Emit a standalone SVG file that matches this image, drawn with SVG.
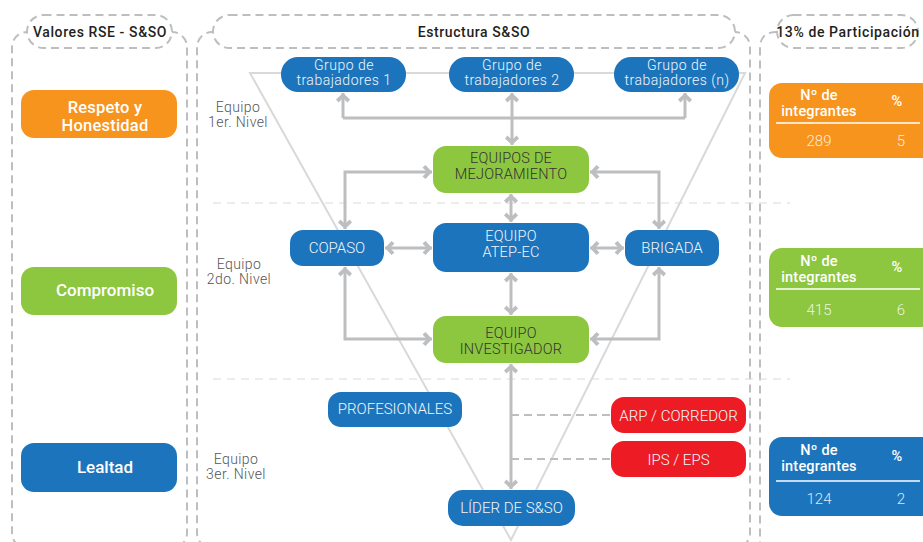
<svg xmlns="http://www.w3.org/2000/svg" width="923" height="542" viewBox="0 0 923 542">
<style>
  text { font-family: Roboto, "Liberation Sans", "DejaVu Sans", sans-serif; }
  .panel { fill: none; stroke: #BCBEC0; stroke-width: 2; stroke-dasharray: 8 5; }
  .pill { fill: #fff; stroke: #BCBEC0; stroke-width: 2; stroke-dasharray: 8 5; }
  .hdr { font-size: 14px; font-weight: 500; fill: #231F20; text-anchor: middle; letter-spacing: 0.6px; }
  .sep { stroke: #DADADA; stroke-width: 1; stroke-dasharray: 8 6; fill: none; }
  .tri { fill: none; stroke: #D9D9D9; stroke-width: 2; }
  .blue { fill: #1C75BC; }
  .green { fill: #8DC63F; }
  .orange { fill: #F7941D; }
  .red { fill: #ED1C24; }
  .wt { fill: #F2F6FB; font-size: 15px; font-weight: 300; text-anchor: middle; }
  .wt2 { fill: #F2F6FB; font-size: 14.5px; font-weight: 300; text-anchor: middle; letter-spacing: 0.2px; }
  .grp { fill: #F2F6FB; font-size: 14px; font-weight: 300; text-anchor: middle; letter-spacing: 0.5px; }
  .dk { fill: #333333; font-size: 14.5px; font-weight: 300; text-anchor: middle; letter-spacing: 0.2px; }
  .val { fill: #FFFFFF; font-size: 17px; font-weight: 500; text-anchor: middle; }
  .val2 { fill: #FFFFFF; font-size: 16.5px; font-weight: 500; text-anchor: middle; letter-spacing: 0.2px; }
  .lvl { fill: #555555; font-size: 14px; font-weight: 300; text-anchor: middle; letter-spacing: 0.4px; }
  .bh { fill: #FFFFFF; font-size: 14.5px; font-weight: 500; text-anchor: middle; letter-spacing: 0.2px; }
  .bn { fill: #FFFFFF; fill-opacity: 0.85; font-size: 15px; font-weight: 300; text-anchor: middle; }
  .conn { fill: none; stroke: #BCBEC0; stroke-width: 3; }
  .dash { fill: none; stroke: #BCBEC0; stroke-width: 2; stroke-dasharray: 8 5; }
</style>
<defs>
  <marker id="ah" viewBox="-1 -8 12 16" markerWidth="12" markerHeight="16" refX="10" refY="0" orient="auto-start-reverse" markerUnits="userSpaceOnUse">
    <path d="M10,0 L3.5,-7 L0.5,-4.5 L5,0 L0.5,4.5 L3.5,7 Z" fill="#BCBEC0"/>
  </marker>
</defs>
<rect width="923" height="542" fill="#FFFFFF"/>

<!-- panels -->
<g id="panels">
  <rect class="panel" x="12" y="32" width="175" height="516" rx="15"/>
  <rect class="panel" x="197" y="32" width="553" height="516" rx="15"/>
  <path class="panel" d="M777,32 Q760,32 760,48 L760,560"/>
  <rect class="pill" x="27" y="15" width="145" height="33" rx="16.5"/>
  <rect class="pill" x="213" y="15" width="522" height="33" rx="16.5"/>
  <rect class="pill" x="777" y="15" width="141" height="33" rx="16.5"/>
  <text class="hdr" x="100" y="37">Valores RSE - S&amp;SO</text>
  <text class="hdr" x="474" y="37">Estructura S&amp;SO</text>
  <text class="hdr" x="848" y="37">13% de Participación</text>
</g>

<!-- separators and triangle -->
<g id="background">
  <line class="sep" x1="213" y1="203" x2="790" y2="203"/>
  <line class="sep" x1="213" y1="379" x2="790" y2="379"/>
  <polygon class="tri" points="250,73 745,73 511,540"/>
</g>

<!-- level labels -->
<g id="levels">
  <text class="lvl" x="238" y="112">Equipo</text>
  <text class="lvl" x="238" y="127">1er. Nivel</text>
  <text class="lvl" x="239" y="269">Equipo</text>
  <text class="lvl" x="239" y="284">2do. Nivel</text>
  <text class="lvl" x="236" y="464">Equipo</text>
  <text class="lvl" x="236" y="479">3er. Nivel</text>
</g>

<!-- connectors -->
<g id="connectors">
  <path class="conn" d="M343,118 H685"/>
  <path class="conn" d="M343,118 V93" marker-end="url(#ah)"/>
  <path class="conn" d="M685,118 V93" marker-end="url(#ah)"/>
  <path class="conn" d="M512,93 V145" marker-start="url(#ah)" marker-end="url(#ah)"/>
  <path class="conn" d="M432,172 H345 V229" marker-start="url(#ah)" marker-end="url(#ah)"/>
  <path class="conn" d="M590,172 H659 V229" marker-start="url(#ah)" marker-end="url(#ah)"/>
  <path class="conn" d="M511,194 V222" marker-start="url(#ah)" marker-end="url(#ah)"/>
  <path class="conn" d="M385,248 H432" marker-start="url(#ah)" marker-end="url(#ah)"/>
  <path class="conn" d="M590,248 H624" marker-start="url(#ah)" marker-end="url(#ah)"/>
  <path class="conn" d="M511,273 V315" marker-start="url(#ah)" marker-end="url(#ah)"/>
  <path class="conn" d="M345,267 V339 H432" marker-start="url(#ah)" marker-end="url(#ah)"/>
  <path class="conn" d="M659,267 V339 H590" marker-start="url(#ah)" marker-end="url(#ah)"/>
  <path class="conn" d="M511,364 V489" marker-start="url(#ah)" marker-end="url(#ah)"/>
  <path class="dash" d="M511,415 H611"/>
  <path class="dash" d="M511,459 H611"/>
</g>

<!-- left values -->
<g id="val-respeto">
  <rect class="orange" x="21" y="90" width="156" height="48" rx="13"/>
  <text class="val2" x="105" y="112.5">Respeto y</text>
  <text class="val2" x="105" y="130.5">Honestidad</text>
</g>
<g id="val-compromiso">
  <rect class="green" x="21" y="267" width="156" height="48" rx="13"/>
  <text class="val" x="105" y="296">Compromiso</text>
</g>
<g id="val-lealtad">
  <rect class="blue" x="21" y="443" width="156" height="49" rx="13"/>
  <text class="val" x="105" y="473">Lealtad</text>
</g>

<!-- structure nodes -->
<g id="grupo1">
  <rect class="blue" x="281" y="57" width="125" height="35" rx="17"/>
  <text class="grp" x="344" y="70">Grupo de</text>
  <text class="grp" x="344" y="85">trabajadores 1</text>
</g>
<g id="grupo2">
  <rect class="blue" x="449" y="57" width="125" height="35" rx="17"/>
  <text class="grp" x="512" y="70">Grupo de</text>
  <text class="grp" x="512" y="85">trabajadores 2</text>
</g>
<g id="grupon">
  <rect class="blue" x="614" y="57" width="125" height="35" rx="17"/>
  <text class="grp" x="677" y="70">Grupo de</text>
  <text class="grp" x="677" y="85">trabajadores (n)</text>
</g>
<g id="mejoramiento">
  <rect class="green" x="433" y="146" width="156" height="47" rx="13"/>
  <text class="dk" x="511" y="163">EQUIPOS DE</text>
  <text class="dk" x="511" y="179">MEJORAMIENTO</text>
</g>
<g id="copaso">
  <rect class="blue" x="290" y="230" width="94" height="36" rx="13"/>
  <text class="wt" x="337" y="253">COPASO</text>
</g>
<g id="atep">
  <rect class="blue" x="433" y="223" width="156" height="49" rx="13"/>
  <text class="wt2" x="511" y="241">EQUIPO</text>
  <text class="wt2" x="511" y="257">ATEP-EC</text>
</g>
<g id="brigada">
  <rect class="blue" x="625" y="230" width="94" height="36" rx="13"/>
  <text class="wt" x="672" y="253">BRIGADA</text>
</g>
<g id="investigador">
  <rect class="green" x="433" y="316" width="156" height="47" rx="13"/>
  <text class="dk" x="511" y="338">EQUIPO</text>
  <text class="dk" x="511" y="354">INVESTIGADOR</text>
</g>
<g id="profesionales">
  <rect class="blue" x="328" y="392" width="134" height="35" rx="13"/>
  <text class="wt" x="395" y="414">PROFESIONALES</text>
</g>
<g id="arp">
  <rect class="red" x="611" y="397" width="135" height="36" rx="13"/>
  <text class="wt" x="678.5" y="420.5">ARP / CORREDOR</text>
</g>
<g id="ips">
  <rect class="red" x="611" y="441" width="135" height="36" rx="13"/>
  <text class="wt" x="678.5" y="464.5">IPS / EPS</text>
</g>
<g id="lider">
  <rect class="blue" x="448" y="490" width="127" height="36" rx="15"/>
  <text class="wt" x="511.5" y="513">LÍDER DE S&amp;SO</text>
</g>

<!-- participation boxes -->
<g id="part-1">
  <rect class="orange" x="769" y="83" width="170" height="75" rx="13"/>
  <text class="bh" x="819" y="99.5">Nº de</text>
  <text class="bh" x="819" y="115.5">integrantes</text>
  <text class="bh" x="897" y="106">%</text>
  <line x1="776" y1="123" x2="920" y2="123" stroke="#FFFFFF" stroke-width="1.5"/>
  <text class="bn" x="819" y="146">289</text>
  <text class="bn" x="901" y="146">5</text>
</g>
<g id="part-2">
  <rect class="green" x="769" y="248" width="170" height="79" rx="13"/>
  <text class="bh" x="819" y="265.5">Nº de</text>
  <text class="bh" x="819" y="281.5">integrantes</text>
  <text class="bh" x="897" y="272">%</text>
  <line x1="776" y1="289" x2="920" y2="289" stroke="#FFFFFF" stroke-width="1.5"/>
  <text class="bn" x="819" y="315">415</text>
  <text class="bn" x="901" y="315">6</text>
</g>
<g id="part-3">
  <rect class="blue" x="769" y="437" width="170" height="79" rx="13"/>
  <text class="bh" x="819" y="454.5">Nº de</text>
  <text class="bh" x="819" y="470.5">integrantes</text>
  <text class="bh" x="897" y="461">%</text>
  <line x1="776" y1="481" x2="920" y2="481" stroke="#FFFFFF" stroke-width="1.5"/>
  <text class="bn" x="819" y="504">124</text>
  <text class="bn" x="901" y="504">2</text>
</g>
</svg>
